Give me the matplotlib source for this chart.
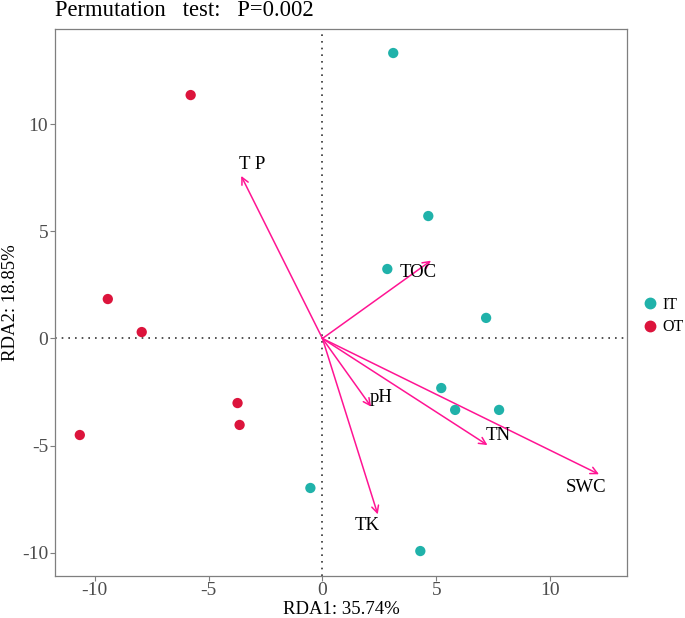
import matplotlib
matplotlib.use("Agg")
import matplotlib.pyplot as plt
from matplotlib.lines import Line2D

plt.rcParams['font.family'] = ['Liberation Serif', 'DejaVu Serif']
plt.rcParams['axes.unicode_minus'] = False

# site scores
it_x = [3.11, 4.65, 2.85, 7.19, 5.22, 5.83, 7.76, -0.53, 4.30]
it_y = [13.31, 5.71, 3.24, 0.96, -2.31, -3.33, -3.33, -6.97, -9.91]
ot_x = [-5.79, -9.43, -7.94, -3.73, -3.64, -10.66]
ot_y = [11.35, 1.84, 0.30, -3.01, -4.03, -4.50]

# environmental arrows
env_names = ["T P", "TOC", "pH", "TN", "SWC", "TK"]
env_x = [-3.57, 4.77, 2.14, 7.25, 12.15, 2.43]
env_y = [7.58, 3.63, -3.18, -4.97, -6.33, -8.20]
lab_x = [-3.07, 4.21, 2.57, 7.73, 11.57, 1.96]
lab_y = [8.09, 3.10, -2.77, -4.53, -6.94, -8.74]

teal = "#20B2AA"
red = "#DC143C"
pink = "#FF1493"
grey = "#7F7F7F"

fig = plt.figure(figsize=(6.85, 6.18), dpi=100)
ax = fig.add_axes([55 / 685, 1 - 575.5 / 618, (627 - 55) / 685, (575.5 - 29) / 618])

ax.axhline(0, color="#333333", linestyle=(0, (1, 3)), linewidth=1.2, zorder=1)
ax.axvline(0, color="#333333", linestyle=(0, (1, 3)), linewidth=1.2, zorder=1)

ax.scatter(it_x, it_y, s=55, color=teal, edgecolors="none", zorder=3)
ax.scatter(ot_x, ot_y, s=55, color=red, edgecolors="none", zorder=3)

for name, x, y, lx, ly in zip(env_names, env_x, env_y, lab_x, lab_y):
    ax.annotate("", xy=(x, y), xytext=(0, 0),
                arrowprops=dict(arrowstyle="->,head_length=0.5,head_width=0.25",
                                color=pink, lw=1.1, shrinkA=0, shrinkB=0), zorder=2)
    ax.text(lx, ly, name, ha="center", va="center", fontsize=13.5, color="black", zorder=4)

ax.set_xlim(-11.75, 13.38)
ax.set_ylim(-11.05, 14.43)
ax.set_xticks([-10, -5, 0, 5, 10])
ax.set_yticks([-10, -5, 0, 5, 10])
ax.tick_params(colors=grey, labelcolor="#4D4D4D", labelsize=14, length=3.5, width=0.8, pad=1.5)
for sp in ax.spines.values():
    sp.set_color(grey)
    sp.set_linewidth(0.9)

ax.set_xlabel("RDA1: 35.74%", fontsize=13.5, labelpad=0)
ax.set_ylabel("RDA2: 18.85%", fontsize=13.5, labelpad=1)
ax.xaxis.set_label_coords(0.5, -0.047)
ax.yaxis.set_label_coords(-0.063, 0.5)
fig.text(55 / 685, 1 - 10 / 618, "Permutation   test:   P=0.002", fontsize=16.3, ha="left", va="center")

handles = [Line2D([], [], marker="o", linestyle="none", color=teal, markersize=7.5),
           Line2D([], [], marker="o", linestyle="none", color=red, markersize=7.5)]
fig.legend(handles, ["IT", "OT"], loc="center left", bbox_to_anchor=(642 / 685, 1 - 316 / 618),
           frameon=False, fontsize=11.5, handlelength=1.0, handletextpad=0.3,
           labelspacing=0.4, borderaxespad=0, borderpad=0)

fig.savefig("out.png", dpi=100)
